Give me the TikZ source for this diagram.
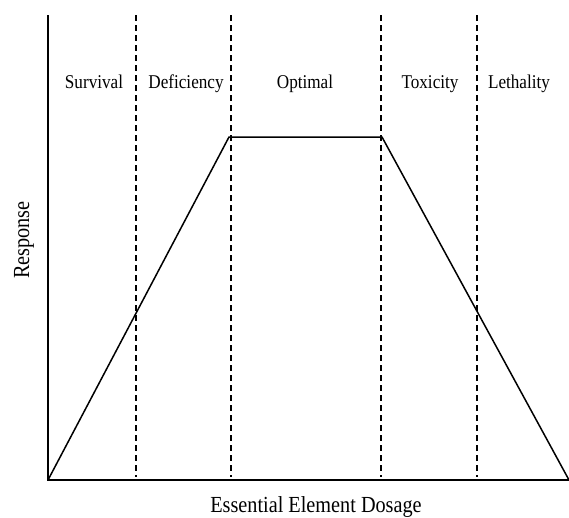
\documentclass[tikz,border=0pt]{standalone}
\usepackage{fontspec}
\setmainfont{Liberation Serif}
\usetikzlibrary{positioning}

\newcommand{\narrowtext}[1]{\scalebox{0.88}[1]{#1}}

\tikzset{
  axis/.style={line width=1.6pt},
  curve/.style={line width=1.5pt},
  zone/.style={line width=1.6pt, dash pattern=on 6pt off 4pt},
  zonelabel/.style={font=\fontsize{19.5}{22}\selectfont, anchor=base},
  axislabel/.style={font=\fontsize{23}{26}\selectfont, anchor=base},
}

\begin{document}
\begin{tikzpicture}[x=1pt, y=-1pt]
  \useasboundingbox (0,0) rectangle (569,517);

  % axes
  \coordinate (origin) at (48,480);
  \coordinate (ytop)   at (48,15);
  \coordinate (xend)   at (569,480);
  \draw[axis] (ytop) -- (origin) -- (xend);

  % zone borders
  \foreach \name/\xx in {b1/136, b2/231, b3/381, b4/477} {
    \coordinate (\name top) at (\xx,15);
    \coordinate (\name bot) at (\xx,477);
    \draw[zone] (\name top) -- (\name bot);
  }

  % response curve
  \coordinate (rise)  at (229,137);
  \coordinate (fall)  at (382,137);
  \draw[curve, line join=miter] (origin) -- (rise) -- (fall) -- (xend);

  % zone names
  \node[zonelabel] (survival)   at (94,88)  {\narrowtext{Survival}};
  \node[zonelabel] (deficiency) at (186,88) {\narrowtext{Deficiency}};
  \node[zonelabel] (optimal)    at (305,88) {\narrowtext{Optimal}};
  \node[zonelabel] (toxicity)   at (430,88) {\narrowtext{Toxicity}};
  \node[zonelabel] (lethality)  at (519,88) {\narrowtext{Lethality}};

  % axis names
  \node[axislabel] (dosage) at (316,512) {\narrowtext{Essential Element Dosage}};
  \node[axislabel, rotate=90] (response) at (29,240) {\narrowtext{Response}};
\end{tikzpicture}
\end{document}
